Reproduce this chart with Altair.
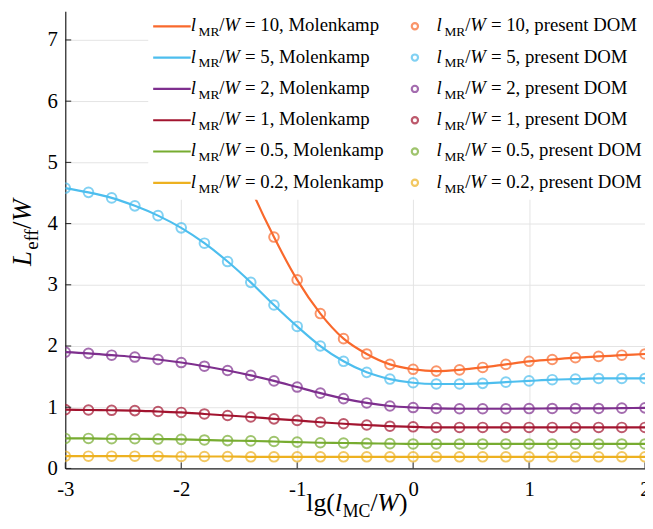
import altair as alt
import pandas as pd

# ---------------- data ----------------
x_vals = [-3.0, -2.8, -2.6, -2.4, -2.2, -2.0, -1.8, -1.6, -1.4, -1.2, -1.0, -0.8, -0.6,
          -0.4, -0.2, 0.0, 0.2, 0.4, 0.6, 0.8, 1.0, 1.2, 1.4, 1.6, 1.8, 2.0]
x_r10 = [-1.6, -1.4, -1.2, -1.0, -0.8, -0.6, -0.4, -0.2, 0.0, 0.2, 0.4, 0.6, 0.8,
         1.0, 1.2, 1.4, 1.6, 1.8, 2.0]

y_r10 = [5.5, 4.58, 3.78, 3.08, 2.53, 2.12, 1.87, 1.70, 1.62, 1.59, 1.61, 1.65, 1.70,
         1.75, 1.78, 1.81, 1.83, 1.85, 1.87]
y_r5 = [4.58, 4.51, 4.42, 4.29, 4.13, 3.93, 3.68, 3.38, 3.04, 2.67, 2.32, 2.00, 1.75,
        1.57, 1.46, 1.40, 1.38, 1.38, 1.39, 1.41, 1.43, 1.45, 1.46, 1.47, 1.47, 1.47]
y_r2 = [1.90, 1.88, 1.85, 1.82, 1.78, 1.73, 1.67, 1.60, 1.52, 1.43, 1.33, 1.23, 1.14,
        1.07, 1.02, 0.995, 0.98, 0.975, 0.975, 0.975, 0.978, 0.98, 0.98, 0.98, 0.985, 0.99]
y_r1 = [0.96, 0.955, 0.95, 0.945, 0.93, 0.915, 0.89, 0.865, 0.84, 0.81, 0.785, 0.755, 0.73,
        0.71, 0.69, 0.68, 0.67, 0.67, 0.67, 0.67, 0.67, 0.67, 0.67, 0.67, 0.67, 0.67]
y_r05 = [0.49, 0.49, 0.485, 0.485, 0.48, 0.475, 0.465, 0.455, 0.45, 0.44, 0.43, 0.42, 0.415,
         0.41, 0.405, 0.40, 0.40, 0.40, 0.40, 0.40, 0.40, 0.40, 0.40, 0.40, 0.40, 0.40]
y_r02 = [0.20, 0.20, 0.20, 0.20, 0.20, 0.195, 0.195, 0.195, 0.19, 0.19, 0.19, 0.19, 0.19,
         0.19, 0.19, 0.19, 0.19, 0.19, 0.19, 0.19, 0.19, 0.19, 0.19, 0.19, 0.19, 0.19]

ratio_labels = ["10", "5", "2", "1", "0.5", "0.2"]
colors = ["#F9692C", "#4DBEEE", "#7E2F8E", "#A2142F", "#77AC30", "#EDB120"]
method_names = ["Molenkamp", "present DOM"]
x_ticks = [-3, -2, -1, 0, 1, 2]
y_ticks = [0, 1, 2, 3, 4, 5, 6, 7]

# ---------------- layout ----------------
FONT = "Liberation Serif"
W, H = 587, 463
X0, Y0 = 66, 8          # page position of the plot origin
XMIN, XMAX, YMIN, YMAX = -3.0, 2.0, 0.0, 7.47


def dx(px):  # page pixel -> x data coordinate (layout helper for legend)
    return XMIN + (px - X0) * (XMAX - XMIN) / W


def dy(py):  # page pixel -> y data coordinate
    return YMIN + (Y0 + H - py) * (YMAX - YMIN) / H


rows = []
for lab, xs_, ys_ in zip(ratio_labels,
                         [x_r10, x_vals, x_vals, x_vals, x_vals, x_vals],
                         [y_r10, y_r5, y_r2, y_r1, y_r05, y_r02]):
    for xv, yv in zip(xs_, ys_):
        rows.append({"series": lab, "x": xv, "y": yv})
df = pd.DataFrame(rows)

xsc = alt.Scale(domain=[XMIN, XMAX], nice=False, zero=False)
ysc = alt.Scale(domain=[YMIN, YMAX], nice=False, zero=False)
csc = alt.Scale(domain=ratio_labels, range=colors)

lab_expr = "datum.value < 0 ? '-' + (-datum.value) : '' + datum.value"
AX = alt.Axis(values=x_ticks, title=None, labelFlush=False, labelExpr=lab_expr,
              labelPadding=10, labelBaseline="top", orient="bottom",
              labelFont=FONT, labelFontSize=21, labelColor="black", tickSize=0,
              domainColor="#222222", domainWidth=1.2, gridColor="#e4e4e4", gridWidth=1)
AY = alt.Axis(values=y_ticks, title=None, labelExpr=lab_expr, labelPadding=8, orient="left",
              labelFont=FONT, labelFontSize=21, labelColor="black", tickSize=0,
              domainColor="#222222", domainWidth=1.2, gridColor="#e4e4e4", gridWidth=1)


def X(field):
    return alt.X(f"{field}:Q", scale=xsc, axis=AX)


def Y(field):
    return alt.Y(f"{field}:Q", scale=ysc, axis=AY)


base = alt.Chart(df).encode(
    x=X("x"), y=Y("y"),
    color=alt.Color("series:N", scale=csc, legend=None),
)
lines = base.mark_line(interpolate="monotone", strokeWidth=2.2, clip=True)
points = base.mark_point(shape="circle", filled=False, size=95, strokeWidth=2, clip=True)

ytick = alt.Chart(pd.DataFrame({"t": y_ticks})).mark_rule(color="#222222", strokeWidth=1).encode(
    y=Y("t"), x=alt.value(0), x2=alt.value(6))
xtick = alt.Chart(pd.DataFrame({"t": x_ticks})).mark_rule(color="#222222", strokeWidth=1).encode(
    x=X("t"), y=alt.value(H), y2=alt.value(H - 6))

one = pd.DataFrame({"k": [0]})

# legend background
leg_bg = alt.Chart(one).mark_rect(color="white").encode(
    x=alt.value(150 - X0), x2=alt.value(W + 10), y=alt.value(-Y0), y2=alt.value(199 - Y0))

# legend entries (positions converted to data coordinates)
FS, FSS = 19, 13.5
leg_rows = []
for i, (lab, col) in enumerate(zip(ratio_labels, colors)):
    ly = 23.3 + 31.7 * i
    for c, (lx, name) in enumerate(zip([193, 442], method_names)):
        leg_rows.append({
            "kind": c, "color": col,
            "ly": dy(ly), "yb": dy(ly + 5), "ys": dy(ly + 10),
            "xl": dx(lx), "xmr": dx(lx + 8), "xsl": dx(lx + 29),
            "xw": dx(lx + 34), "xr": dx(lx + 55),
            "sx1": dx(155), "sx2": dx(193), "mx": dx(420),
            "rest": f"= {lab}, {name}",
        })
leg = pd.DataFrame(leg_rows)
leg_line = leg[leg.kind == 0]
leg_mark = leg[leg.kind == 1]

swatch_lines = alt.Chart(leg_line).mark_rule(strokeWidth=2.2).encode(
    x=X("sx1"), x2="sx2:Q", y=Y("ly"),
    color=alt.Color("color:N", scale=None))
swatch_pts = alt.Chart(leg_mark).mark_point(shape="circle", filled=False, size=40, strokeWidth=2.2).encode(
    x=X("mx"), y=Y("ly"),
    color=alt.Color("color:N", scale=None))


def leg_text(fx, fy, size, italic=False, text=None, field=None):
    kw = dict(font=FONT, fontSize=size, align="left", baseline="alphabetic",
              fontStyle="italic" if italic else "normal", color="black")
    if text is not None:
        kw["text"] = text
    enc = dict(x=X(fx), y=Y(fy))
    if field is not None:
        enc["text"] = alt.Text(f"{field}:N")
    return alt.Chart(leg).mark_text(**kw).encode(**enc)


leg_texts = [
    leg_text("xl", "yb", FS, italic=True, text="l"),
    leg_text("xmr", "ys", FSS, text="MR"),
    leg_text("xsl", "yb", FS, text="/"),
    leg_text("xw", "yb", FS, italic=True, text="W"),
    leg_text("xr", "yb", FS, field="rest"),
]


def txt(text, px, py, size, italic=False, angle=0):
    kw = dict(text=text, font=FONT, fontSize=size, align="left", baseline="alphabetic",
              fontStyle="italic" if italic else "normal", color="black")
    if angle:
        kw["angle"] = angle
    return alt.Chart(one).mark_text(**kw).encode(x=alt.value(px - X0), y=alt.value(py - Y0))


# x-axis title: lg(l_MC/W)
xt_b, xt_s = 514, 520
x_title = [
    txt("lg(", 310, xt_b, 26),
    txt("l", 339, xt_b, 26, italic=True),
    txt("MC", 347, xt_s, 18),
    txt("/", 375, xt_b, 26),
    txt("W", 382, xt_b, 26, italic=True),
    txt(")", 404, xt_b, 26),
]

# y-axis title: L_eff/W (rotated)
yt_b, yt_s = 31, 38
y_title = [
    txt("L", yt_b, 266, 27, italic=True, angle=270),
    txt("eff", yt_s, 249.5, 19, angle=270),
    txt("/", yt_b, 228.5, 27, angle=270),
    txt("W", yt_b, 221, 27, italic=True, angle=270),
]

chart = alt.layer(
    lines, points, xtick, ytick, leg_bg, swatch_lines, swatch_pts, *leg_texts, *x_title, *y_title
).properties(
    width=W, height=H,
    autosize=alt.AutoSizeParams(type="none"),
    padding={"left": X0 - 8, "top": Y0 - 8, "right": 0, "bottom": 50},
).configure_view(stroke=None)

chart.save("out.html", embed_options={"renderer": "svg", "actions": False})
